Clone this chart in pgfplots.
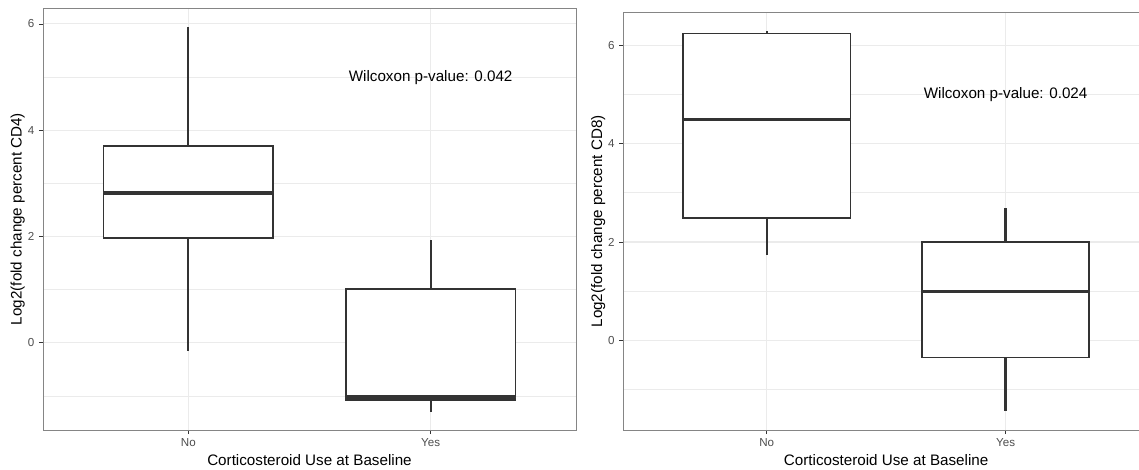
\documentclass[border=0pt]{standalone}
\usepackage{fontspec}
\setmainfont{Liberation Sans}
\usepackage{pgfplots}
\pgfplotsset{compat=1.18}
\usepgfplotslibrary{statistics}
\definecolor{g20}{HTML}{333333}
\definecolor{g30}{HTML}{4D4D4D}
\definecolor{g92}{HTML}{EBEBEB}
\definecolor{frame}{HTML}{858585}
\pgfplotsset{
  ggbox/.style={
    scale only axis,
    anchor=south west,
    xmin=0.4, xmax=2.6,
    xtick={1,2}, xticklabels={No,Yes},
    minor ytick={-1,1,3,5},
    ytick={0,2,4,6},
    grid=both,
    major grid style={draw=g92, line width=0.8pt},
    minor grid style={draw=g92, line width=0.45pt},
    minor tick length=0pt,
    major tick length=3pt,
    tick align=outside,
    tick pos=left,
    tick style={draw=g20, line width=0.6pt},
    axis line style={draw=frame, line width=0.7pt},
    /pgf/number format/assume math mode=true,
    ticklabel style={font=\fontsize{8.7}{10}\selectfont, text=g30},
    every axis y label/.style={at={(axis description cs:0,0.5)}, xshift=-18.9pt, rotate=90, anchor=center, font=\fontsize{11.4}{13}\selectfont},
    every axis x label/.style={at={(axis description cs:0.5,0)}, yshift=-22.5pt, anchor=center, font=\fontsize{11.4}{13}\selectfont},
    xlabel={Corticosteroid Use at Baseline},
    boxplot/draw direction=y,
  },
  ggb/.style={draw=g20, fill=white, line width=1.2pt, solid},
  bp/.style={box extend=0.7, whisker extend=0,
    every median/.style={line width=2.4pt},
    every whisker/.style={line width=1.7pt, draw=g20, solid}},
}
\begin{document}
\begin{tikzpicture}
\useasboundingbox (0,0) rectangle (854.25pt,351.75pt);
\clip (0,0) rectangle (854.25pt,351.75pt);
\begin{axis}[ggbox, at={(32.25pt,29.25pt)}, width=399.75pt, height=316.5pt,
  ymin=-1.64, ymax=6.30,
  ylabel={Log2(fold change percent CD4)}]
\addplot[ggb, boxplot prepared={draw position=1, /pgfplots/bp,
  lower whisker=-0.15, lower quartile=1.97, median=2.82, upper quartile=3.70, upper whisker=5.95}] coordinates {};
\addplot[ggb, boxplot prepared={draw position=2, /pgfplots/bp,
  lower whisker=-1.30, lower quartile=-1.07, median=-1.02, upper quartile=1.01, upper whisker=1.94}] coordinates {};
\node[font=\fontsize{11.4}{13}\selectfont, anchor=center] at (axis cs:2,5) {Wilcoxon p-value: 0.042};
\end{axis}
\begin{axis}[ggbox, at={(467.5pt,29.25pt)}, width=394.2pt, height=313pt,
  ymin=-1.82, ymax=6.66,
  ylabel={Log2(fold change percent CD8)}]
\addplot[ggb, boxplot prepared={draw position=1, /pgfplots/bp,
  lower whisker=1.73, lower quartile=2.49, median=4.49, upper quartile=6.24, upper whisker=6.29}] coordinates {};
\addplot[ggb, boxplot prepared={draw position=2, /pgfplots/bp,
  lower whisker=-1.43, lower quartile=-0.35, median=0.99, upper quartile=2.00, upper whisker=2.70}] coordinates {};
\node[font=\fontsize{11.4}{13}\selectfont, anchor=center] at (axis cs:2,5) {Wilcoxon p-value: 0.024};
\end{axis}
\end{tikzpicture}
\end{document}
